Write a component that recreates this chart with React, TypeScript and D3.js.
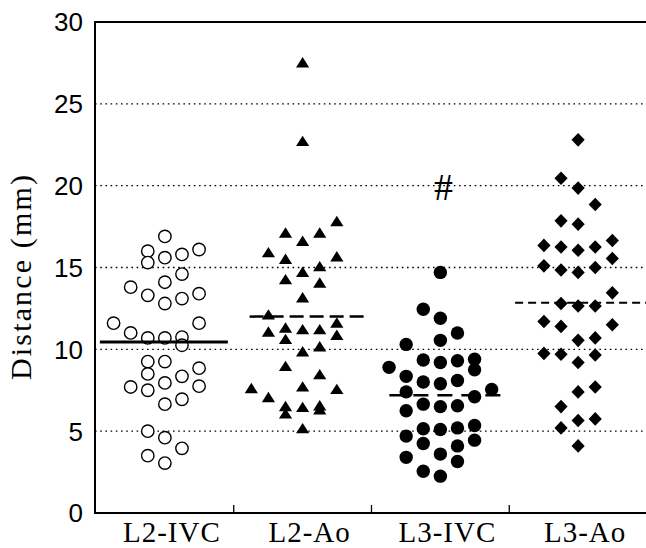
import React from "react";
import * as d3 from "d3";

const WIDTH = 646;
const HEIGHT = 548;

// [column slot, distance in mm]
const L2_IVC: [number, number][] = [
  [0, 16.9], [-1, 16.0], [2, 16.1], [0, 15.6], [1, 15.8], [-1, 15.3], [1, 14.6], [0, 14.1],
  [-2, 13.8], [-1, 13.3], [2, 13.4], [1, 13.1], [0, 12.8], [-3, 11.6], [2, 11.6], [-2, 11.0],
  [-1, 10.7], [0, 10.7], [1, 10.75], [1, 10.25], [-1, 9.25], [0, 9.25], [2, 8.85], [-1, 8.5],
  [1, 8.35], [0, 7.95], [-2, 7.7], [-1, 7.5], [2, 7.75], [1, 6.95], [0, 6.65], [-1, 5.0],
  [0, 4.6], [1, 3.95], [-1, 3.5], [0, 3.05],
];

const L2_AO: [number, number][] = [
  [0, 27.5], [0, 22.7], [2, 17.8], [-1, 17.1], [1, 17.1], [0, 16.6], [-2, 15.9], [-1, 15.5],
  [2, 15.65], [1, 15.05], [0, 14.7], [-1, 14.25], [1, 14.05], [0, 13.15], [-2, 12.1], [2, 11.6],
  [-2, 11.05], [-1, 11.3], [0, 11.2], [1, 11.2], [2, 10.85], [-1, 10.6], [1, 10.15], [0, 9.85],
  [-1, 8.95], [1, 8.45], [-3, 7.6], [0, 7.7], [2, 7.55], [-2, 7.05], [-1, 6.5], [-1, 6.05],
  [0, 6.45], [1, 6.55], [1, 6.3], [0, 5.15],
];

const L3_IVC: [number, number][] = [
  [0, 14.7], [-1, 12.45], [0, 11.9], [1, 11.0], [0, 10.55], [-2, 10.3], [-1, 9.35], [0, 9.2],
  [1, 9.3], [2, 9.4], [2, 8.75], [-3, 8.9], [-2, 8.35], [-1, 8.0], [0, 7.9], [1, 8.1],
  [3, 7.55], [-2, 7.4], [2, 7.1], [-1, 6.65], [0, 6.5], [1, 6.55], [-2, 6.25], [-1, 5.15],
  [0, 5.1], [1, 5.2], [2, 5.35], [2, 4.45], [-2, 4.7], [-1, 4.25], [1, 4.1], [0, 3.6],
  [-2, 3.4], [1, 3.15], [-1, 2.55], [0, 2.25],
];

const L3_AO: [number, number][] = [
  [0, 22.8], [-1, 20.45], [0, 19.85], [1, 18.85], [-1, 17.85], [0, 17.65], [-2, 16.35], [-1, 16.25],
  [0, 16.05], [1, 16.25], [2, 16.65], [2, 15.55], [-2, 15.1], [-1, 14.85], [0, 14.7], [1, 15.0],
  [2, 13.45], [-1, 12.8], [0, 12.65], [1, 12.65], [-2, 11.7], [-1, 11.4], [2, 11.5], [0, 10.55],
  [1, 10.7], [-2, 9.75], [-1, 9.7], [0, 9.2], [1, 9.65], [0, 7.4], [1, 7.7], [-1, 6.5],
  [0, 5.65], [1, 5.75], [-1, 5.2], [0, 4.1],
];

const CATEGORIES = ["L2-IVC", "L2-Ao", "L3-IVC", "L3-Ao"];
const SERIES = [L2_IVC, L2_AO, L3_IVC, L3_AO];
const CENTER_VALUES = [10.45, 12.0, 7.2, 12.85];
const Y_TICKS = [0, 5, 10, 15, 20, 25, 30];
const GRID_VALUES = [5, 10, 15, 20, 25];
const ANNOTATION = { category: "L3-IVC", label: "#", value: 19.1 };

// drawing styles per group (not data)
const MARKERS = ["openCircle", "triangle", "filledCircle", "diamond"];
const LINE_STYLE = [
  { dash: null, width: 3, from: -65, to: 63 },
  { dash: "14,6", width: 2.5, from: -53, to: 63 },
  { dash: "15,9", width: 2.5, from: -51, to: 62 },
  { dash: "8,5", width: 2, from: -63, to: 70 },
];

const left = 95;
const top = 22;
const bottom = 513;

const y = d3.scaleLinear().domain([0, 30]).range([bottom, top]);
const x = d3.scaleBand().domain(CATEGORIES).range([96, 647]);
const slot = d3.scaleLinear().domain([0, 1]).range([0, 17.1]);

const trianglePath = "M0,-5.8L6.6,4.6L-6.6,4.6Z";
const diamondPath = "M0,-6.8L6.6,0L0,6.8L-6.6,0Z";

function Marker({ kind, cx, cy }: { kind: string; cx: number; cy: number }) {
  if (kind === "openCircle")
    return <circle cx={cx} cy={cy} r={6.2} fill="#fff" stroke="#000" strokeWidth={1.4} />;
  if (kind === "filledCircle") return <circle cx={cx} cy={cy} r={6.7} fill="#000" />;
  if (kind === "triangle") return <path d={trianglePath} transform={`translate(${cx},${cy})`} fill="#000" />;
  return <path d={diamondPath} transform={`translate(${cx},${cy})`} fill="#000" />;
}

export default function App() {
  const center = (c: string) => (x(c) ?? 0) + x.bandwidth() / 2;
  const boundaries = CATEGORIES.slice(1).map((c) => x(c) ?? 0);

  return (
    <svg
      width={WIDTH}
      height={HEIGHT}
      style={{ position: "absolute", left: 0, top: 0, background: "#fff" }}
    >
      {/* dotted gridlines */}
      {GRID_VALUES.map((v) => (
        <line
          key={v}
          x1={left}
          x2={WIDTH}
          y1={y(v)}
          y2={y(v)}
          stroke="#000"
          strokeWidth={1.4}
          strokeDasharray="1.6,3.6"
        />
      ))}

      {/* frame */}
      <line x1={left} x2={WIDTH} y1={top} y2={top} stroke="#000" strokeWidth={2} />
      <line x1={left} x2={WIDTH} y1={bottom} y2={bottom} stroke="#000" strokeWidth={2} />
      <line x1={left} x2={left} y1={top - 1} y2={bottom + 1} stroke="#000" strokeWidth={2} />
      {boundaries.map((b, i) => (
        <line key={i} x1={b} x2={b} y1={bottom - 8} y2={bottom} stroke="#000" strokeWidth={1.3} />
      ))}

      {/* y tick labels */}
      {Y_TICKS.map((t) => (
        <text
          key={t}
          x={83}
          y={y(t)}
          dy="0.36em"
          textAnchor="end"
          fontFamily="'Liberation Sans Narrow', 'Liberation Sans', Arial, sans-serif"
          fontSize={26}
        >
          {t}
        </text>
      ))}

      {/* y title */}
      <text
        transform={`translate(31,${(top + bottom) / 2 + 10}) rotate(-90)`}
        textAnchor="middle"
        fontFamily="'Liberation Serif', 'Times New Roman', serif"
        fontSize={30}
        textLength={205}
        lengthAdjust="spacing"
      >
        Distance (mm)
      </text>

      {/* x labels */}
      {CATEGORIES.map((c) => (
        <text
          key={c}
          x={center(c) + 7}
          y={542}
          textAnchor="middle"
          fontFamily="'Liberation Serif', 'Times New Roman', serif"
          fontSize={29}
          letterSpacing={1}
        >
          {c}
        </text>
      ))}

      {/* points */}
      {SERIES.map((pts, gi) =>
        pts.map(([s, v], i) => (
          <Marker
            key={`${gi}-${i}`}
            kind={MARKERS[gi]}
            cx={center(CATEGORIES[gi]) + slot(s)}
            cy={y(v)}
          />
        ))
      )}

      {/* center lines */}
      {CATEGORIES.map((c, gi) => {
        const st = LINE_STYLE[gi];
        return (
          <line
            key={c}
            x1={center(c) + st.from}
            x2={Math.min(center(c) + st.to, WIDTH)}
            y1={y(CENTER_VALUES[gi])}
            y2={y(CENTER_VALUES[gi])}
            stroke="#000"
            strokeWidth={st.width}
            strokeDasharray={st.dash ?? undefined}
          />
        );
      })}

      {/* annotation */}
      <text
        x={center(ANNOTATION.category) + 3}
        y={y(ANNOTATION.value)}
        textAnchor="middle"
        fontFamily="'Liberation Serif', 'Times New Roman', serif"
        fontSize={38}
      >
        {ANNOTATION.label}
      </text>
    </svg>
  );
}
